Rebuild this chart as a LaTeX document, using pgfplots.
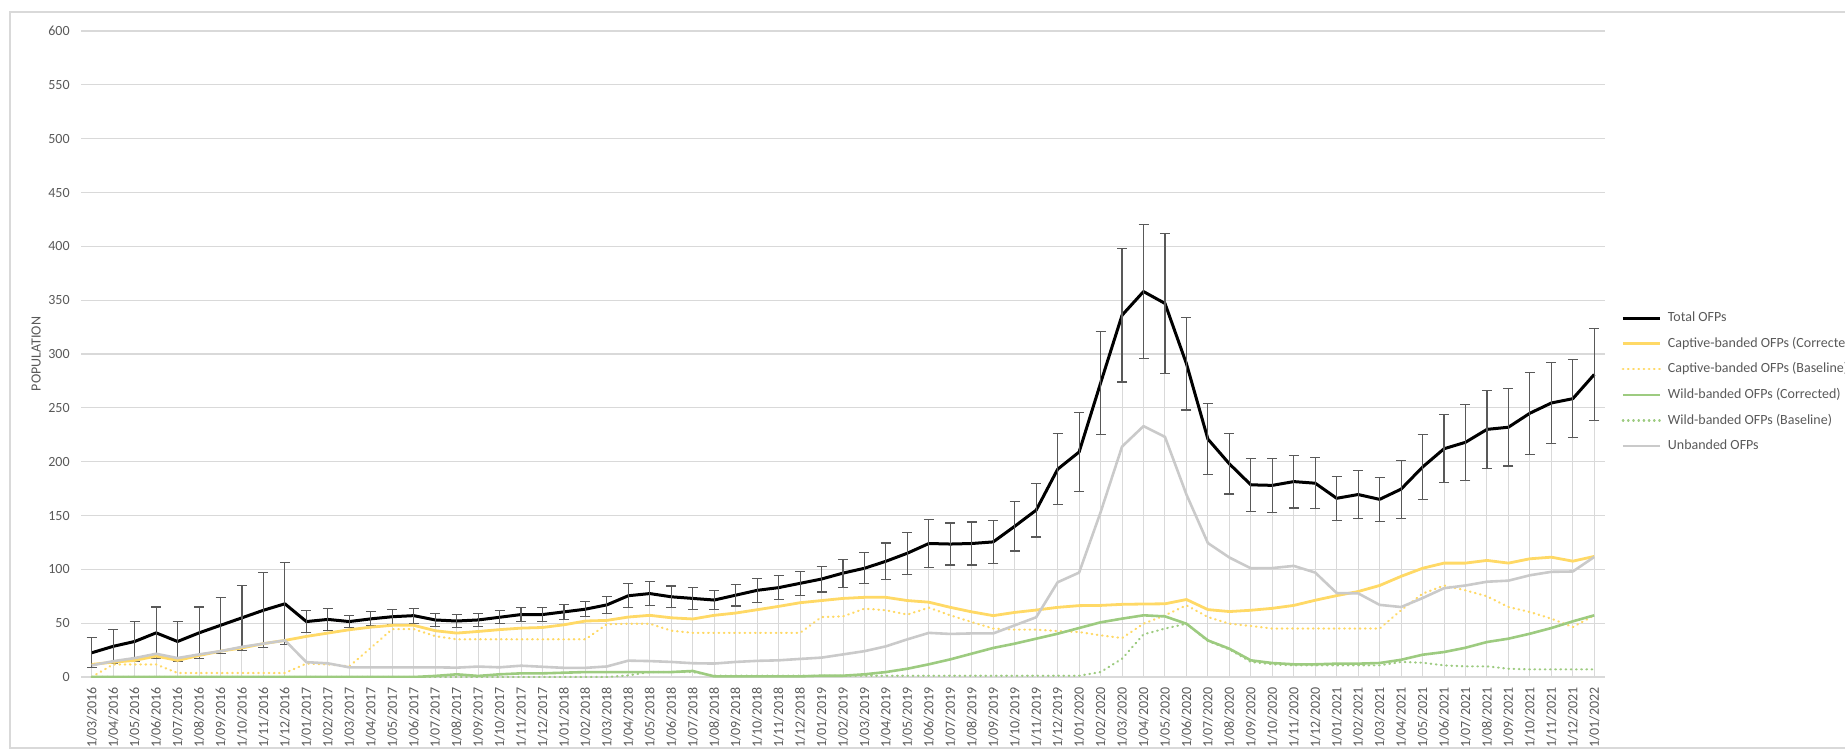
\documentclass[border=0pt]{standalone}
\usepackage{fontspec}
\setmainfont{Carlito}
\usepackage{pgfplots}
\usepackage{pgfplotstable}
\pgfplotsset{compat=1.18}

\definecolor{goldc}{HTML}{FFD966}
\definecolor{greenc}{HTML}{9DCB80}
\definecolor{grayc}{HTML}{CACACA}
\definecolor{gridc}{HTML}{D9D9D9}
\definecolor{errc}{HTML}{595959}
\definecolor{labc}{HTML}{595959}

% i = month index from 1/03/2016; T = total, E = error; C/CB = captive corrected/baseline;
% W/WB = wild corrected/baseline; U = unbanded
\pgfplotstableread{
i  T     E    C     CB    W     WB    U
0  22.5  14   11.7  0     0     0     10.8
1  28.5  16   13.8  11.7  0     0     14.7
2  33    18.5 15.4  11.7  0     0     17.6
3  41    24   19.4  11.7  0     0     21.6
4  33    18.5 15.4  3.7   0     0     17.6
5  41    24   20    3.7   0     0     21
6  48    26   24    3.7   0     0     24
7  55    30   27    3.7   0     0     28
8  62    35   31    3.7   0     0     31
9  68    38   34    3.7   0     0     34
10 51.5  10   37.7  12.5  0     0     13.8
11 53.5  10   40.8  11.7  0     0     12.7
12 51.5  5.5  43.9  10    0     0     9
13 54    6.5  46.3  27    0     0     9
14 56    7    48    44.5  0     0     9
15 57    7    48    44.5  0     0     9
16 53    6    43    38    1     0     9
17 52    6    40.8  35    2.5   0     8.7
18 53    6    42.3  35    1     0     9.7
19 55.5  6    44    35    2.5   0     9
20 58    6.5  45.4  35    3.4   0     10.5
21 58    6.5  46    35    3.4   0     9.5
22 60.5  7    48.5  35    4     0     8.5
23 63    7    52    35    4.6   0     8.5
24 67    8    52.6  49    4.6   0     9.8
25 75.5  11   55.7  49.5  4.6   1.5   15.2
26 77.5  11   57.3  49.5  4.6   4.6   14.8
27 74.5  10   55    43    4.6   4.6   14
28 73    10   53.9  41    5.6   4.6   12.8
29 71.5  9    57.3  41    0.6   1.2   12.5
30 76    10   59.4  41    0.6   1.2   14
31 80.5  11   62.5  41    0.6   1.2   15
32 83    11   65.6  41    0.6   1.2   15.5
33 87    11   69    41    0.6   1.2   16.8
34 91    12   71    55.7  1.2   1.2   18
35 96.5  13   73    56.3  1.2   1.2   21
36 101   14.5 74    63.5  2.5   1.2   24
37 107.5 17   74    62    4.6   1.2   28.5
38 115   19.5 71    58    7.7   1.2   35
39 124   22   69.5  64.4  11.8  1.2   41
40 123.5 19.5 64.7  57.3  16.4  1.2   40
41 124   20   60.5  51    21.7  1.2   40.5
42 125.5 20   57    45    27    1.2   40.5
43 140   23   60    44    31    1.2   48
44 155   25   62.2  44    35.6  1.2   55.5
45 193   33   64.7  42.7  40.2  1.2   88
46 209   37   66.3  41.8  45.5  1.2   97
47 273   48   66.5  38.7  50.8  4.6   153
48 336   62   67.5  36.2  54.2  17    214
49 358   62   67.8  49.5  57.3  39.6  233
50 347   65   68    57.3  56.3  45    223
51 291   43   72    66.6  49.5  49.5  169.5
52 221   33   62.6  55.7  34    33.4  124.4
53 198   28   60.8  49.5  26.3  25.7  111
54 178.5 24.5 62    47.4  15.5  14    101
55 178   25   63.8  45    13    11.8  101.2
56 181.5 24.5 66.5  45    11.8  10.8  103.2
57 180   23.5 71.3  45    11.8  10.8  97
58 166   20.5 75.6  45    12.4  10.8  78
59 169.5 22   79.4  45    12.4  10.8  77.7
60 165   20.5 85    45    13    10.8  67
61 174.5 27   93.5  62    16    14    65
62 195   30.5 101   77.4  20.7  13.3  73.3
63 212   31.5 105.8 85    23.2  10.8  82.5
64 218   35.5 105.8 80.5  27.2  9.9   85
65 230   36   108.3 75    32.5  9.9   88.5
66 232   36   105.8 65    35.6  7.7   89.5
67 245   38   109.8 60.4  40.2  7.1   94.5
68 254.5 38   111.3 54.2  45.5  7.1   97.7
69 258.5 36   107.6 46.4  51.7  7.1   98
70 281   42.5 112   57.3  57.3  7.1   111.5
}\data

\begin{document}
\begin{tikzpicture}[x=1pt,y=1pt]
\draw[draw=gridc, line width=0.6pt] (-35.5pt,-35.5pt) rectangle (950pt,332.5pt);
\begin{axis}[
  at={(0,0)}, anchor=south west,
  scale only axis, width=762pt, height=323pt,
  xmin=-0.5, xmax=70.5, ymin=0, ymax=600,
  xtick={0,...,70},
  xticklabels={1/03/2016,1/04/2016,1/05/2016,1/06/2016,1/07/2016,1/08/2016,1/09/2016,1/10/2016,1/11/2016,1/12/2016,
    1/01/2017,1/02/2017,1/03/2017,1/04/2017,1/05/2017,1/06/2017,1/07/2017,1/08/2017,1/09/2017,1/10/2017,1/11/2017,1/12/2017,
    1/01/2018,1/02/2018,1/03/2018,1/04/2018,1/05/2018,1/06/2018,1/07/2018,1/08/2018,1/09/2018,1/10/2018,1/11/2018,1/12/2018,
    1/01/2019,1/02/2019,1/03/2019,1/04/2019,1/05/2019,1/06/2019,1/07/2019,1/08/2019,1/09/2019,1/10/2019,1/11/2019,1/12/2019,
    1/01/2020,1/02/2020,1/03/2020,1/04/2020,1/05/2020,1/06/2020,1/07/2020,1/08/2020,1/09/2020,1/10/2020,1/11/2020,1/12/2020,
    1/01/2021,1/02/2021,1/03/2021,1/04/2021,1/05/2021,1/06/2021,1/07/2021,1/08/2021,1/09/2021,1/10/2021,1/11/2021,1/12/2021,
    1/01/2022},
  ytick={0,50,...,600},
  ymajorgrids, grid style={draw=gridc, line width=0.6pt},
  axis line style={draw=none},
  major tick length=0pt,
  tick label style={font=\fontsize{7}{8}\selectfont, text=labc},
  x tick label style={rotate=90, anchor=east, inner sep=0pt},
  xticklabel shift=5pt,
  y tick label style={inner sep=0pt},
  yticklabel shift=5.5pt,
  /pgf/number format/assume math mode=true,
  ylabel={POPULATION},
  ylabel style={font=\fontsize{7}{8}\selectfont, text=labc, at={(axis description cs:-0.0295,0.5)}, anchor=center},
  legend cell align=left,
  legend image code/.code={\draw[#1] (0pt,0pt) -- (18.5pt,0pt);},
  legend style={at={(axis description cs:1.0065,0.5735)}, anchor=north west,
    draw=none, fill=none, font=\fontsize{7}{8}\selectfont, text=labc,
    row sep=5.6pt,
    nodes={inner sep=0pt, text height=5.4pt, text depth=1.8pt},
    /tikz/every odd column/.append style={column sep=3.3pt}},
]
\addplot[ycomb, draw=gridc, line width=0.5pt, forget plot] table[x=i, y=T] {\data};

\addplot[black, line width=1.5pt, line join=round,
  error bars/.cd, y dir=both, y explicit,
  error bar style={line width=0.55pt, draw=errc},
  error mark options={rotate=90, mark size=2.5pt, line width=0.55pt, draw=errc}]
  table[x=i, y=T, y error=E] {\data};
\addlegendentry{Total OFPs}

\addplot[goldc, line width=1.4pt, line join=round] table[x=i, y=C] {\data};
\addlegendentry{Captive-banded OFPs (Corrected)}

\addplot[goldc, line width=1.1pt, line cap=round, dash pattern=on 0.3pt off 2.3pt] table[x=i, y=CB] {\data};
\addlegendentry{Captive-banded OFPs (Baseline)}

\addplot[greenc, line width=1.3pt, line join=round] table[x=i, y=W] {\data};
\addlegendentry{Wild-banded OFPs (Corrected)}

\addplot[greenc, line width=1.1pt, line cap=round, dash pattern=on 0.3pt off 2.3pt] table[x=i, y=WB] {\data};
\addlegendentry{Wild-banded OFPs (Baseline)}

\addplot[grayc, line width=1.3pt, line join=round] table[x=i, y=U] {\data};
\addlegendentry{Unbanded OFPs}
\end{axis}
\pgfresetboundingbox
\useasboundingbox (-40.5pt,-37.5pt) rectangle (882pt,338.5pt);
\end{tikzpicture}
\end{document}
